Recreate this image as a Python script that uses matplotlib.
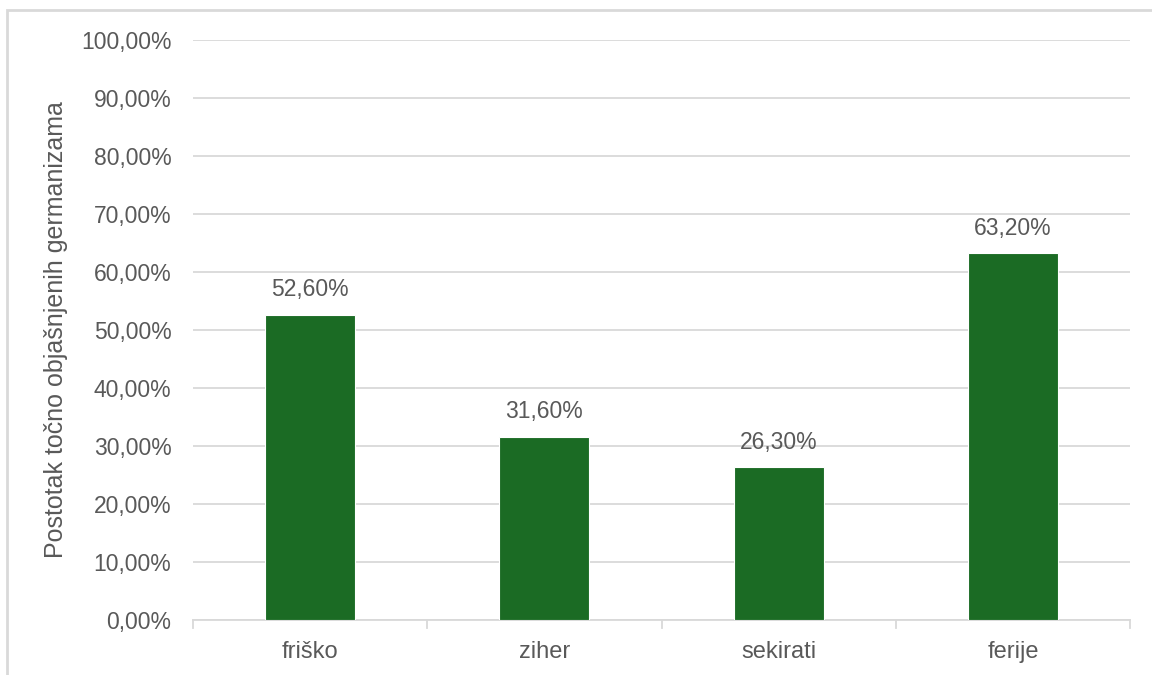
import matplotlib
matplotlib.use("Agg")
import matplotlib.pyplot as plt
from matplotlib.patches import Rectangle

categories = ["friško", "ziher", "sekirati", "ferije"]
values = [52.6, 31.6, 26.3, 63.2]
value_labels = ["52,60%", "31,60%", "26,30%", "63,20%"]
yticks = [0, 10, 20, 30, 40, 50, 60, 70, 80, 90, 100]
ytick_labels = ["0,00%", "10,00%", "20,00%", "30,00%", "40,00%", "50,00%",
                "60,00%", "70,00%", "80,00%", "90,00%", "100,00%"]
ylabel = "Postotak točno objašnjenih germanizama"

plt.rcParams['font.family'] = ['Liberation Sans', 'DejaVu Sans']
text_color = "#595959"
grid_color = "#d9d9d9"
bar_color = "#1b6b24"

W, H = 1152, 675
fig = plt.figure(figsize=(W / 100, H / 100), dpi=100)

# Outer chart border (left and top visible)
fig.patches.append(Rectangle((7 / W, -0.1), 1.2, (H - 10) / H + 0.1, transform=fig.transFigure,
                             fill=False, edgecolor=grid_color, linewidth=2))

left, right = 193 / W, 1130 / W
bottom, top = 1 - 620 / H, 1 - 40 / H
ax = fig.add_axes([left, bottom, right - left, top - bottom])

x = list(range(len(categories)))
bars = ax.bar(x, values, width=0.385, color=bar_color, edgecolor="white", linewidth=0.8, zorder=3)
ax.set_xlim(-0.5, len(categories) - 0.5)
ax.set_ylim(0, 100)

ax.set_yticks(yticks)
ax.set_yticklabels(ytick_labels)
ax.set_xticks(x)
ax.set_xticklabels(categories)
ax.tick_params(axis='y', length=0, pad=15.5, labelsize=16.5, labelcolor=text_color)
ax.tick_params(axis='x', length=0, pad=15, labelsize=17, labelcolor=text_color)

ax.grid(axis='y', color=grid_color, linewidth=1.3, zorder=0)
for s in ["top", "right", "left"]:
    ax.spines[s].set_visible(False)
ax.spines["bottom"].set_color(grid_color)
ax.spines["bottom"].set_linewidth(1.3)

# category separator ticks at bottom
for b in [-0.5, 0.5, 1.5, 2.5, 3.5]:
    ax.plot([b, b], [0, -1.4], color=grid_color, linewidth=1.3, clip_on=False, zorder=2)

for xi, v, lab in zip(x, values, value_labels):
    ax.annotate(lab, (xi, v), xytext=(0, 10), textcoords="offset points",
                ha="center", va="bottom", fontsize=16.5, color=text_color)

ax.set_ylabel(ylabel, fontsize=18, color=text_color)
ax.yaxis.set_label_coords((68 - 193) / (1130 - 193), 0.5)

fig.savefig("out.png", dpi=100, facecolor="white")
